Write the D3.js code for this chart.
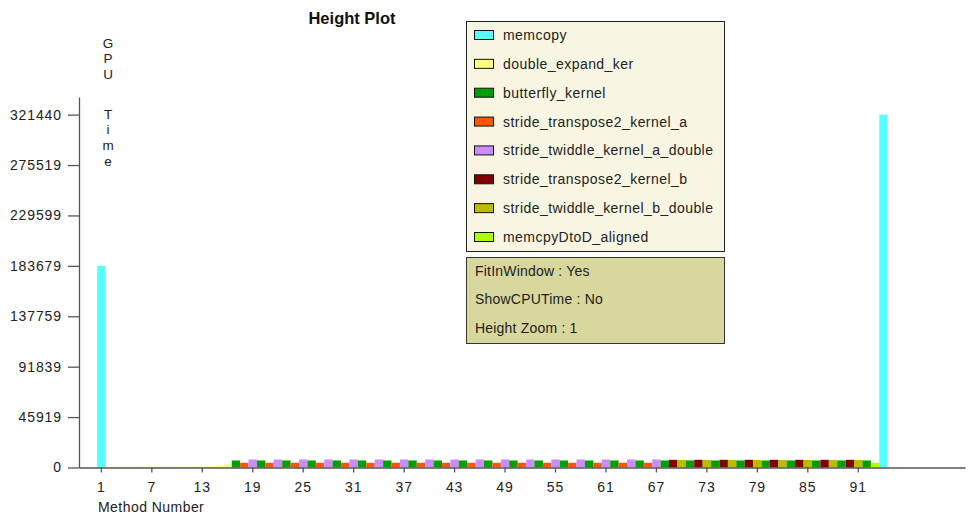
<!DOCTYPE html>
<html>
<head>
<meta charset="utf-8">
<script src="https://cdnjs.cloudflare.com/ajax/libs/d3/7.8.5/d3.min.js"></script>
<style>
  html, body { margin: 0; padding: 0; background: #ffffff; }
  svg { display: block; font-family: "Liberation Sans", Arial, sans-serif; }
</style>
</head>
<body>
<svg id="chart" width="969" height="516"></svg>
<script>
// ---- DATA ----
const kernels = [
  "memcopy",
  "double_expand_ker",
  "butterfly_kernel",
  "stride_transpose2_kernel_a",
  "stride_twiddle_kernel_a_double",
  "stride_transpose2_kernel_b",
  "stride_twiddle_kernel_b_double",
  "memcpyDtoD_aligned"
];
const kernelColors = ["#55ffff", "#ffff88", "#00a000", "#ff5500", "#cc8cff", "#800000", "#bbbb00", "#aaff00"];

// method number -> kernel index (methods 1..94)
const methodKernel = [
  0,
  1,1,1,1,1,1,1,1,1,1,1,1,1,1,1,
  2,3,4, 2,3,4, 2,3,4, 2,3,4, 2,3,4, 2,3,4, 2,3,4, 2,3,4, 2,3,4,
  2,3,4, 2,3,4, 2,3,4, 2,3,4, 2,3,4, 2,3,4, 2,3,4, 2,3,4,
  2,5,6, 2,5,6, 2,5,6, 2,5,6, 2,5,6, 2,5,6, 2,5,6, 2,5,6,
  2,
  7,
  0
];
// GPU time per method
const methodTime = [
  183680,
  700,700,750,750,800,800,800,850,850,900,900,950,1100,1900,2700,
  6400,4300,7300, 6400,4300,7300, 6400,4300,7300, 6400,4300,7300, 6400,4300,7300, 6400,4300,7300, 6400,4300,7300, 6400,4300,7300, 6400,4300,7300,
  6400,4300,7300, 6400,4300,7300, 6400,4300,7300, 6400,4300,7300, 6400,4300,7300, 6400,4300,7300, 6400,4300,7300, 6400,4300,7300,
  6400,7000,6900, 6400,7000,6900, 6400,7000,6900, 6400,7000,6900, 6400,7000,6900, 6400,7000,6900, 6400,7000,6900, 6400,7000,6900,
  6400,
  4300,
  321440
];
const xTicks = [1, 7, 13, 19, 25, 31, 37, 43, 49, 55, 61, 67, 73, 79, 85, 91];
const yTicks = [0, 45919, 91839, 137759, 183679, 229599, 275519, 321440];
const infoLines = ["FitInWindow : Yes", "ShowCPUTime : No", "Height Zoom : 1"];
const title = "Height Plot";
const yLabel = "GPU Time";
const xLabel = "Method Number";

// ---- DRAW ----
const svg = d3.select("#chart");
const methods = methodTime.map((v, i) => ({ m: i + 1, v: v, k: methodKernel[i] }));

const x = d3.scaleLinear().domain([-1.6, 103.75]).range([79, 965]);
const y = d3.scaleLinear().domain([0, 337500]).range([467.5, 97]);
const step = x(2) - x(1);

// bars
svg.append("g").selectAll("rect").data(methods).join("rect")
  .attr("x", d => x(d.m) - step / 2 + 0.5)
  .attr("width", step)
  .attr("y", d => y(d.v))
  .attr("height", d => y(0) - y(d.v))
  .attr("fill", d => kernelColors[d.k]);

// axes
const axisColor = "#555555";
const fontSize = "14px";
const spacing = "0.45px";
const xAxis = svg.append("g").attr("transform", `translate(0,${y(0)})`)
  .call(d3.axisBottom(x).tickValues(xTicks).tickSize(5).tickPadding(10).tickSizeOuter(0));
const yAxis = svg.append("g").attr("transform", `translate(79,0)`)
  .call(d3.axisLeft(y).tickValues(yTicks).tickFormat(d => String(d)).tickSize(11).tickPadding(6).tickSizeOuter(0));
[xAxis, yAxis].forEach(a => {
  a.selectAll("path, line").attr("stroke", axisColor).attr("stroke-width", 1.3);
  a.selectAll("text").attr("fill", "#222").style("font-size", fontSize)
    .style("letter-spacing", "0.9px")
    .style("font-family", "'Liberation Sans', Arial, sans-serif");
});

// title
svg.append("text").attr("x", 352).attr("y", 24).attr("text-anchor", "middle")
  .style("font-size", "16.5px").style("font-weight", "bold").attr("fill", "#111").text(title);

// y label as stacked letters (space leaves a wider gap)
let yy = 47.5;
const letterPos = yLabel.split("").map(c => {
  const p = { c: c, y: yy };
  yy += (c === " ") ? 24.5 : 15.6;
  return p;
}).filter(p => p.c !== " ");
svg.append("g").selectAll("text").data(letterPos).join("text")
  .attr("x", 108).attr("y", d => d.y).attr("text-anchor", "middle")
  .style("font-size", "13.5px").attr("fill", "#222").text(d => d.c);

// x label
svg.append("text").attr("x", 98).attr("y", 512)
  .style("font-size", fontSize).style("letter-spacing", spacing).attr("fill", "#222").text(xLabel);

// legend
const lg = svg.append("g");
lg.append("rect").attr("x", 466.5).attr("y", 21.5).attr("width", 258).attr("height", 230)
  .attr("fill", "#f8f6e2").attr("stroke", "#222").attr("stroke-width", 1);
const rowY = d3.scaleLinear().domain([0, 7]).range([35, 237]);
const rows = lg.selectAll("g.row").data(kernels).join("g").attr("class", "row")
  .attr("transform", (d, i) => `translate(0,${rowY(i)})`);
rows.append("rect").attr("x", 474.5).attr("y", -4.5).attr("width", 19).attr("height", 9)
  .attr("fill", (d, i) => kernelColors[i]).attr("stroke", "#111").attr("stroke-width", 1);
rows.append("text").attr("x", 503).attr("y", 5)
  .style("font-size", fontSize).style("letter-spacing", spacing).attr("fill", "#222").text(d => d);

// info box
const ib = svg.append("g");
ib.append("rect").attr("x", 466.5).attr("y", 257.5).attr("width", 258).attr("height", 86)
  .attr("fill", "#d8d89e").attr("stroke", "#333").attr("stroke-width", 1);
ib.selectAll("text").data(infoLines).join("text")
  .attr("x", 475).attr("y", (d, i) => 275.5 + i * 28.7)
  .style("font-size", fontSize).style("letter-spacing", "0.2px").attr("fill", "#222").text(d => d);
</script>
</body>
</html>
